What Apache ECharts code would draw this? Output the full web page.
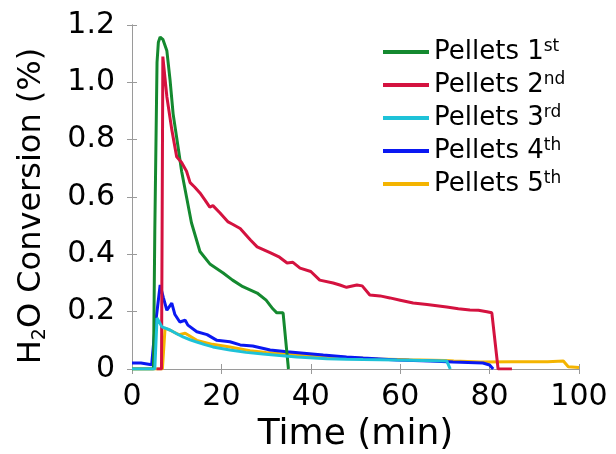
<!DOCTYPE html>
<html>
<head>
<meta charset="utf-8">
<script src="https://cdn.jsdelivr.net/npm/echarts@6/dist/echarts.min.js"></script>
<style>html,body{margin:0;padding:0;background:#fff}#c{width:616px;height:454px}</style>
</head>
<body>
<div id="c"></div>
<script>
// ---- data (time in min, H2O conversion in %) ----
var xTicks = [0, 20, 40, 60, 80, 100];
var yTicks = [0, 0.2, 0.4, 0.6, 0.8, 1.0, 1.2];
var seriesNames = ['Pellets 1', 'Pellets 2', 'Pellets 3', 'Pellets 4', 'Pellets 5'];
var seriesSups = ['st', 'nd', 'rd', 'th', 'th'];

var p1T = [0, 4.8, 5.1, 5.6, 5.9, 6.3, 6.9, 7.8, 8.5, 9.2, 10.3, 11.1, 12.2, 13.3, 15.2, 17.5, 20.4, 22.5, 24.8, 28.0, 30.0, 31.5, 32.4, 33.8, 35.0];
var p1V = [0, 0, 0.48, 1.07, 1.14, 1.158, 1.15, 1.11, 1.01, 0.89, 0.775, 0.69, 0.60, 0.51, 0.41, 0.365, 0.335, 0.31, 0.287, 0.265, 0.24, 0.21, 0.196, 0.196, 0];

var p2T = [5.5, 6.6, 6.9, 7.8, 8.9, 10.0, 11.1, 12.2, 13.0, 14.0, 15.2, 16.3, 17.4, 18.1, 19.7, 21.5, 22.5, 24.2, 26.5, 28.0, 31.0, 33.0, 34.7, 36.0, 37.6, 40.0, 42.0, 45.0, 46.5, 48.0, 50.3, 51.5, 53.2, 55.5, 57.7, 60.0, 62.9, 66.0, 70.4, 73.0, 75.6, 77.5, 79.4, 80.5, 81.9, 85.0];
var p2V = [0, 0, 1.09, 0.95, 0.835, 0.74, 0.72, 0.69, 0.65, 0.635, 0.614, 0.59, 0.565, 0.57, 0.544, 0.513, 0.505, 0.49, 0.45, 0.426, 0.405, 0.39, 0.37, 0.372, 0.352, 0.34, 0.31, 0.30, 0.293, 0.285, 0.293, 0.29, 0.258, 0.255, 0.248, 0.24, 0.23, 0.225, 0.216, 0.21, 0.206, 0.205, 0.20, 0.196, 0, 0];

var p3T = [0, 5.1, 5.6, 6.7, 8.5, 10.0, 11.4, 13.0, 14.5, 16.3, 18.1, 21.9, 25.5, 29.3, 33.0, 36.9, 43.6, 48.0, 51.7, 59.3, 65.0, 70.4, 71.2];
var p3V = [0, 0, 0.178, 0.147, 0.136, 0.123, 0.112, 0.102, 0.094, 0.085, 0.077, 0.066, 0.058, 0.052, 0.047, 0.042, 0.036, 0.034, 0.033, 0.031, 0.03, 0.028, 0];

var p4T = [0, 2.0, 4.4, 5.1, 6.3, 7.0, 7.8, 8.9, 9.6, 10.7, 11.9, 12.5, 14.5, 16.8, 19.0, 21.9, 24.2, 27.0, 30.9, 34.7, 42.8, 48.0, 51.7, 59.3, 66.7, 71.8, 78.5, 80.0, 80.8];
var p4V = [0.021, 0.021, 0.015, 0.136, 0.293, 0.25, 0.205, 0.23, 0.19, 0.164, 0.17, 0.153, 0.13, 0.12, 0.10, 0.095, 0.084, 0.08, 0.066, 0.06, 0.049, 0.042, 0.038, 0.031, 0.028, 0.024, 0.021, 0.014, 0];

var p5T = [0, 6.8, 7.4, 9.2, 10.5, 11.9, 14.5, 18.0, 21.9, 26.4, 30.0, 33.8, 41.4, 48.0, 55.0, 62.0, 70.0, 72.0, 78.0, 85.0, 93.0, 96.5, 97.6, 100];
var p5V = [0, 0, 0.143, 0.13, 0.12, 0.125, 0.10, 0.086, 0.077, 0.064, 0.058, 0.052, 0.045, 0.04, 0.035, 0.032, 0.03, 0.028, 0.024, 0.025, 0.025, 0.028, 0.008, 0.005];

var colors = ['#14892f', '#d4123f', '#1ec2d8', '#0a18f2', '#f4b400'];
var zOrder = [3, 4, 5, 2, 1];

function pairs(t, v) { return t.map(function (x, i) { return [x, v[i]]; }); }
var allT = [p1T, p2T, p3T, p4T, p5T];
var allV = [p1V, p2V, p3V, p4V, p5V];

var FONT = 'DejaVu Sans';
var axisGray = '#9a9a9a';

var series = seriesNames.map(function (n, i) {
  return {
    name: n,
    type: 'line',
    data: pairs(allT[i], allV[i]),
    symbol: 'none',
    smooth: false,
    z: zOrder[i],
    lineStyle: { color: colors[i], width: 3 },
    itemStyle: { color: colors[i] },
    silent: true
  };
});

var baseX = {
  type: 'value', min: 0, max: 100, interval: 20,
  splitLine: { show: false },
  axisLine: { show: true, lineStyle: { color: axisGray, width: 1 } },
  axisTick: { show: true, inside: true, length: 5, lineStyle: { color: axisGray } }
};
var baseY = {
  type: 'value', min: 0, max: 1.2, interval: 0.2,
  splitLine: { show: false },
  axisLine: { show: true, lineStyle: { color: axisGray, width: 1 } },
  axisTick: { show: true, inside: true, length: 5, lineStyle: { color: axisGray } }
};

var chart = echarts.init(document.getElementById('c'), null, { renderer: 'canvas' });
chart.setOption({
  animation: false,
  backgroundColor: '#ffffff',
  grid: { left: 132, right: 37, top: 25, bottom: 85, containLabel: false, outerBoundsMode: 'none' },
  legend: {
    orient: 'vertical',
    left: 383, top: 38,
    padding: 0,
    icon: 'rect',
    itemWidth: 46, itemHeight: 4, itemGap: 6,
    data: seriesNames,
    formatter: function (name) {
      var i = seriesNames.indexOf(name);
      return '{m|' + name + '}{s|' + seriesSups[i] + '}';
    },
    textStyle: {
      fontFamily: FONT, color: '#000',
      rich: {
        m: { fontFamily: FONT, fontSize: 26, lineHeight: 28, color: '#000' },
        s: { fontFamily: FONT, fontSize: 17, lineHeight: 17, verticalAlign: 'top', color: '#000' }
      }
    }
  },
  xAxis: [
    Object.assign({}, baseX, {
      position: 'bottom',
      name: 'Time (min)', nameLocation: 'middle', nameGap: 48,
      nameTextStyle: { fontFamily: FONT, fontSize: 36, color: '#000' },
      axisLabel: {
        margin: 13, fontFamily: FONT, fontSize: 30, color: '#000',
        formatter: function (v) { return xTicks.indexOf(v) >= 0 ? String(v) : ''; }
      }
    }),
    Object.assign({}, baseX, { position: 'top', axisLabel: { show: false } })
  ],
  yAxis: [
    Object.assign({}, baseY, {
      position: 'left',
      name: '{m|H}{b|2}{m|O Conversion (%)}',
      nameLocation: 'middle', nameRotate: 90, nameGap: 82,
      nameTextStyle: {
        fontFamily: FONT, fontSize: 32, color: '#000', padding: [0, 18, 0, 0],
        rich: {
          m: { fontFamily: FONT, fontSize: 32, lineHeight: 36, color: '#000' },
          b: { fontFamily: FONT, fontSize: 19, lineHeight: 19, verticalAlign: 'bottom', color: '#000' }
        }
      },
      axisLabel: {
        margin: 17, fontFamily: FONT, fontSize: 30, color: '#000',
        formatter: function (v) {
          var r = Math.round(v * 10) / 10;
          return r === 0 ? '0' : r.toFixed(1);
        }
      }
    }),
    Object.assign({}, baseY, { position: 'right', axisLabel: { show: false } })
  ],
  series: series
});
</script>
</body>
</html>
